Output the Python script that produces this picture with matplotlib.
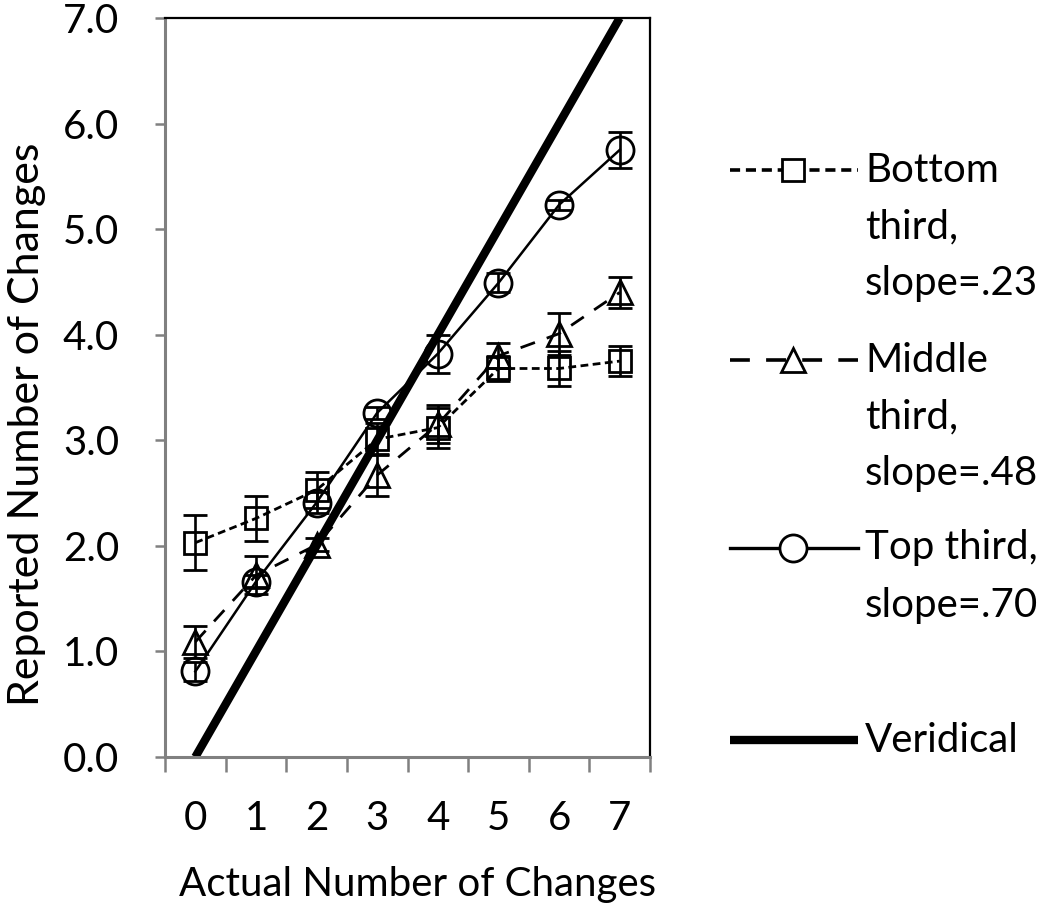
import matplotlib
matplotlib.use("Agg")
import matplotlib.pyplot as plt

plt.rcParams['font.family'] = ['Lato', 'DejaVu Sans']

changes = [0, 1, 2, 3, 4, 5, 6, 7]
tick_labels = ['0', '1', '2', '3', '4', '5', '6', '7']

bottom_mean = [2.03, 2.26, 2.53, 3.01, 3.12, 3.68, 3.68, 3.75]
bottom_err = [0.26, 0.21, 0.17, 0.15, 0.19, 0.12, 0.17, 0.14]
middle_mean = [1.09, 1.72, 2.01, 2.67, 3.15, 3.80, 4.01, 4.40]
middle_err = [0.15, 0.18, 0.06, 0.20, 0.18, 0.12, 0.20, 0.15]
top_mean = [0.81, 1.66, 2.41, 3.26, 3.82, 4.49, 5.23, 5.75]
top_err = [0.09, 0.06, 0.10, 0.06, 0.18, 0.09, 0.05, 0.17]
veridical = [0, 1, 2, 3, 4, 5, 6, 7]

labels = [['Bottom', 'third,', 'slope=.23'],
          ['Middle', 'third,', 'slope=.48'],
          ['Top third,', 'slope=.70'],
          ['Veridical']]

W, H = 1050, 911
fig = plt.figure(figsize=(W / 100, H / 100), dpi=100)
ax = fig.add_axes([165 / W, 1 - 757 / H, 485 / W, 739 / H])

series = [
    (bottom_mean, bottom_err, 's', 15.5, (0, (2.8, 1.6)), 2.0),
    (middle_mean, middle_err, '^', 17.5, (0, (5.5, 4.5)), 2.0),
    (top_mean, top_err, 'o', 19.5, '-', 1.8),
]
styles = []
for mean, err, mk, ms, ls, lw in series:
    ax.errorbar(changes, mean, yerr=err, color='black', lw=lw, ls=ls,
                marker=mk, ms=ms, mfc='none', mec='black', mew=2.0,
                ecolor='black', elinewidth=1.9, capsize=8.5, capthick=2.6)
    styles.append((mk, ms, ls, lw))

ax.plot(changes, veridical, color='black', lw=6, solid_capstyle='butt')

ax.set_xlim(-0.5, 7.5)
ax.set_ylim(0, 7)
ax.set_xticks(changes)
ax.set_xticklabels(tick_labels)
ax.set_xticks([i - 0.5 for i in range(9)], minor=True)
ax.tick_params(axis='x', which='major', length=0, pad=31, labelsize=29)
ax.tick_params(axis='x', which='minor', length=11, width=1.8, color='#808080', direction='out')
ax.set_yticks(range(8))
ax.set_yticklabels(['%.1f' % v for v in range(8)])
ax.tick_params(axis='y', length=7, width=1.8, color='#808080', pad=26, labelsize=29)

for side in ['left', 'bottom']:
    ax.spines[side].set_color('#808080')
    ax.spines[side].set_linewidth(2.2)
for side in ['top', 'right']:
    ax.spines[side].set_color('black')
    ax.spines[side].set_linewidth(1.6)

ax.set_xlabel('Actual Number of Changes', fontsize=29)
ax.xaxis.set_label_coords(0.52, -0.173)
ax.xaxis.label.set_va('center')
ax.set_ylabel('Reported Number of Changes', fontsize=31)
ax.yaxis.set_label_coords(-0.245, 0.45)

# legend, drawn by hand so handles sit on the first line of each entry
lax = fig.add_axes([0, 0, 1, 1])
lax.set_xlim(0, W)
lax.set_ylim(H, 0)
lax.axis('off')
first_y = [170, 360, 548, 740]
for i, lines in enumerate(labels):
    y = first_y[i]
    if i < 3:
        mk, ms, ls, lw = styles[i]
        lax.plot([730, 858], [y, y], color='black', lw=lw + 0.6, ls=ls)
        lax.plot([793], [y], marker=mk, ms=ms, mfc='white', mec='black', mew=2.0)
    else:
        lax.plot([730, 858], [y, y], color='black', lw=6, solid_capstyle='butt')
    for j, t in enumerate(lines):
        lax.text(865, y + j * 57, t, fontsize=29, va='center', ha='left')

fig.savefig('out.png', dpi=100)
